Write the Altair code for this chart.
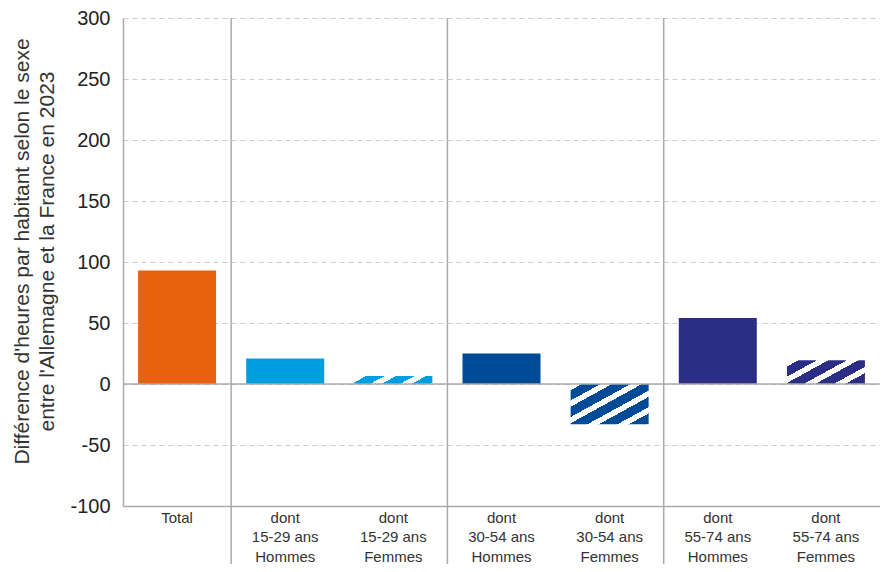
import math
import altair as alt
import pandas as pd

# ---- data ----
categories = ["Total", "15-29 H", "15-29 F", "30-54 H", "30-54 F", "55-74 H", "55-74 F"]
labels = ["Total", "dont|15-29 ans|Hommes", "dont|15-29 ans|Femmes",
          "dont|30-54 ans|Hommes", "dont|30-54 ans|Femmes",
          "dont|55-74 ans|Hommes", "dont|55-74 ans|Femmes"]
values = [93, 21, 6.5, 25, -33, 54, 19.5]
hatched = [False, False, True, False, True, False, True]
colors = ["#E7620F", "#009EE0", "#009EE0", "#004B98", "#004B98", "#2C2D84", "#2C2D84"]
separators = ["15-29 H", "30-54 H", "55-74 H"]
y_ticks = [-100, -50, 0, 50, 100, 150, 200, 250, 300]

W, H = 757, 488
BAR = 78
Y_MIN, Y_MAX = -100, 300

df = pd.DataFrame({"cat": categories, "label": labels, "value": values,
                   "hatched": hatched, "color": colors})
label_map = dict(zip(categories, labels))
label_expr = "split({" + ",".join(f"'{k}':'{v}'" for k, v in label_map.items()) + "}[datum.value], '|')"

x_scale = alt.Scale(domain=categories, paddingInner=0, paddingOuter=0)
y_scale = alt.Scale(domain=[Y_MIN, Y_MAX], nice=False, zero=False)

x_enc = alt.X("cat:N", scale=x_scale, sort=categories,
              axis=alt.Axis(title=None, labelExpr=label_expr, labelAngle=0,
                            labelFont="Liberation Sans", labelFontSize=15,
                            labelLineHeight=19.5, labelPadding=4, labelColor="#333",
                            ticks=False, domainColor="#aaaaaa", domainWidth=1.5, grid=False))
y_enc = alt.Y("value:Q", scale=y_scale,
              axis=alt.Axis(values=y_ticks, labelExpr="'' + datum.value",
                            title=["Différence d'heures par habitant selon le sexe",
                                   "entre l'Allemagne et la France en 2023"],
                            titleFont="Liberation Sans", titleFontSize=21, titleFontWeight="normal",
                            titleColor="#333", titleAngle=270, titleAlign="center",
                            titleBaseline="alphabetic", titleLineHeight=25,
                            titleX=-95, titleY=233,
                            labelFont="Liberation Sans", labelFontSize=20, labelColor="#222",
                            labelPadding=13, ticks=False,
                            domainColor="#aaaaaa", domainWidth=1.5,
                            grid=True, gridColor="#cccccc", gridDash=[5, 4], gridWidth=1))

solid = df[~df["hatched"]]
base_bars = alt.Chart(solid).mark_bar(size=BAR).encode(
    x=x_enc, y=y_enc,
    color=alt.Color("color:N", scale=None, legend=None),
)

layers = [base_bars]

# hatched bars: striped fill via linear gradient in bounding-box units
px = 30.0      # horizontal stripe pitch
slope = 0.55   # stripe slope
frac_white = 0.38
for _, row in df[df["hatched"]].iterrows():
    hpx = abs(row["value"]) * H / (Y_MAX - Y_MIN)
    k = BAR / px
    m = hpx / (px * slope)
    T = k + m
    kk, mm = k / T, m / T
    n2 = kk * kk + mm * mm
    a, b = kk / n2, mm / n2
    stops = []
    n = int(math.ceil(T)) + 1
    for i in range(n):
        o0 = i / T
        o1 = (i + frac_white) / T
        o2 = (i + 1) / T
        for o, c in [(o0, "#ffffff"), (o1, "#ffffff"), (o1, row["color"]), (o2, row["color"])]:
            stops.append(alt.GradientStop(offset=min(max(o, 0.0), 1.0), color=c))
    grad = alt.Gradient(gradient="linear", x1=0, y1=0, x2=a, y2=b, stops=stops)
    layers.append(
        alt.Chart(df[df["cat"] == row["cat"]]).mark_bar(size=BAR, color=grad).encode(x=x_enc, y=y_enc)
    )

zero = alt.Chart(pd.DataFrame({"y": [0]})).mark_rule(color="#aaaaaa", strokeWidth=1.5).encode(
    y=alt.Y("y:Q", scale=y_scale)
)
seps = alt.Chart(pd.DataFrame({"cat": separators})).mark_rule(color="#aaaaaa", strokeWidth=1.5).encode(
    x=alt.X("cat:N", scale=x_scale, bandPosition=0),
    y=alt.value(0), y2=alt.value(H + 80),
)
layers += [zero, seps]

chart = alt.layer(*layers).properties(
    width=W, height=H,
    autosize=alt.AutoSizeParams(type="none"),
    padding={"left": 115, "top": 10, "right": 0, "bottom": 58},
).configure_view(stroke=None)

chart.save("out.html", embed_options={"renderer": "svg", "actions": False})
